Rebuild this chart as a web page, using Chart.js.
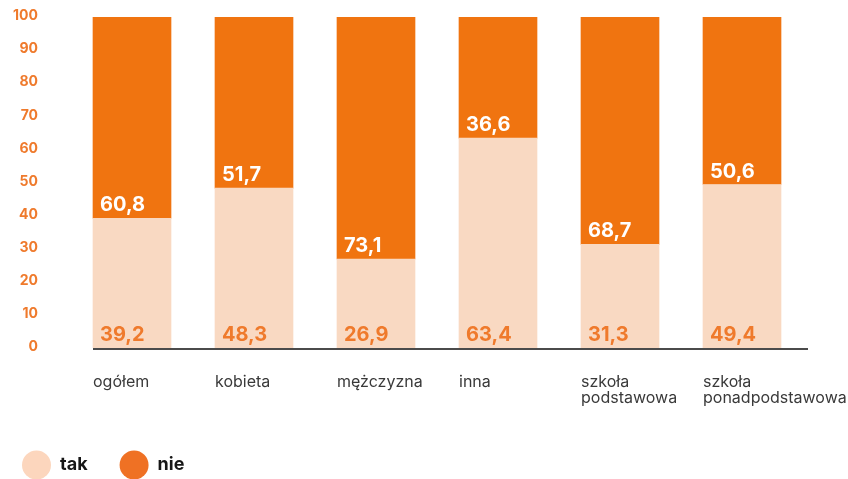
<!DOCTYPE html>
<html lang="pl">
<head>
<meta charset="utf-8">
<script src="https://cdn.jsdelivr.net/npm/chart.js@4"></script>
<style>
  html, body { margin: 0; padding: 0; background: #fff; }
  #wrap { position: relative; width: 848px; height: 479px; }
</style>
</head>
<body>
<div id="wrap"><canvas id="chart" width="848" height="479"></canvas></div>
<script>
const categories = [
  "ogółem",
  "kobieta",
  "mężczyzna",
  "inna",
  ["szkoła", "podstawowa"],
  ["szkoła", "ponadpodstawowa"],
];
const takValues = [39.2, 48.3, 26.9, 63.4, 31.3, 49.4];
const nieValues = [60.8, 51.7, 73.1, 36.6, 68.7, 50.6];
const yTicks = [0, 10, 20, 30, 40, 50, 60, 70, 80, 90, 100];

const FONT = "Inter, 'Noto Sans', sans-serif";
const ORANGE = "#f07410";
const PEACH = "#f9d9c2";
const LABEL_ORANGE = "#ef7a2c";

const fmt = (v) => v.toFixed(1).replace(".", ",");

// value labels at the bottom-left corner of every segment
const segmentLabels = {
  id: "segmentLabels",
  afterDatasetsDraw(chart) {
    const { ctx } = chart;
    ctx.save();
    ctx.font = "bold 20px " + FONT;
    ctx.textAlign = "left";
    ctx.textBaseline = "middle";
    chart.data.datasets.forEach((ds, di) => {
      const meta = chart.getDatasetMeta(di);
      meta.data.forEach((bar, i) => {
        ctx.fillStyle = ds.labelColor;
        ctx.fillText(fmt(ds.data[i]), bar.x - bar.width / 2 + 7, bar.base - 13);
      });
    });
    ctx.restore();
  },
};

// baseline under the bars
const baseline = {
  id: "baseline",
  afterDatasetsDraw(chart) {
    const { ctx, chartArea } = chart;
    const first = chart.getDatasetMeta(0).data[0];
    const y = chart.scales.y.getPixelForValue(0);
    ctx.save();
    ctx.strokeStyle = "#4b4b4b";
    ctx.lineWidth = 2;
    ctx.beginPath();
    ctx.moveTo(first.x - first.width / 2, y + 1);
    ctx.lineTo(chartArea.right + 5, y + 1);
    ctx.stroke();
    ctx.restore();
  },
};

// round swatches under the plot
const dotLegend = {
  id: "dotLegend",
  afterDraw(chart) {
    const { ctx } = chart;
    const cy = 465;
    let x = 22;
    ctx.save();
    ctx.font = "bold 18px " + FONT;
    ctx.textBaseline = "middle";
    ctx.textAlign = "left";
    chart.data.datasets.forEach((ds) => {
      ctx.fillStyle = ds.swatch;
      ctx.beginPath();
      ctx.arc(x + 14.5, cy, 14.5, 0, Math.PI * 2);
      ctx.fill();
      ctx.fillStyle = "#161616";
      ctx.fillText(ds.label, x + 38, cy);
      x += 38 + ctx.measureText(ds.label).width + 32;
    });
    ctx.restore();
  },
};

new Chart(document.getElementById("chart"), {
  type: "bar",
  data: {
    labels: categories,
    datasets: [
      {
        label: "tak",
        data: takValues,
        backgroundColor: PEACH,
        swatch: "#fcd6bd",
        labelColor: LABEL_ORANGE,
        barThickness: 78,
      },
      {
        label: "nie",
        data: nieValues,
        backgroundColor: ORANGE,
        swatch: "#ef7124",
        labelColor: "#ffffff",
        barThickness: 78,
      },
    ],
  },
  options: {
    responsive: false,
    animation: false,
    layout: { padding: { top: 17, right: 45, left: 0, bottom: 0 } },
    plugins: {
      legend: { display: false },
      tooltip: { enabled: false },
    },
    scales: {
      x: {
        stacked: true,
        grid: { display: false, drawTicks: false },
        border: { display: false },
        ticks: {
          align: "start",
          labelOffset: -39,
          padding: 26,
          color: "#3a3a3a",
          font: { family: FONT, size: 16, lineHeight: "16px" },
          autoSkip: false,
          maxRotation: 0,
        },
        afterFit(scale) {
          scale.height = 131;
          scale.paddingLeft = 0;
          scale.paddingRight = 0;
        },
      },
      y: {
        stacked: true,
        min: 0,
        max: 100,
        grid: { display: false, drawTicks: false },
        border: { display: false },
        afterBuildTicks(scale) {
          scale.ticks = yTicks.map((v) => ({ value: v }));
        },
        ticks: {
          padding: 33,
          labelOffset: -1,
          color: LABEL_ORANGE,
          font: { family: FONT, size: 14, weight: "bold" },
        },
        afterFit(scale) {
          scale.width = 71;
          scale.paddingTop = 0;
          scale.paddingBottom = 0;
        },
      },
    },
  },
  plugins: [segmentLabels, baseline, dotLegend],
});
</script>
</body>
</html>
